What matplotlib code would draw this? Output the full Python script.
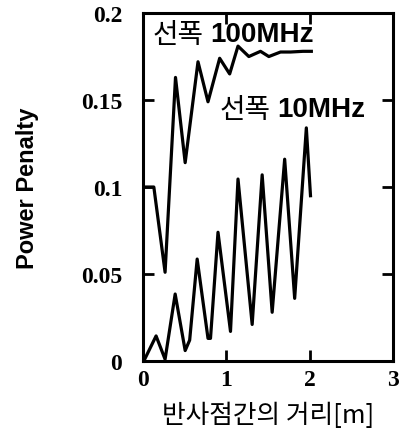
import matplotlib.pyplot as plt

# 선폭 100MHz
x100 = [0.0, 0.13, 0.265, 0.39, 0.506, 0.66, 0.78, 0.92, 1.04, 1.14, 1.27, 1.41, 1.51, 1.65, 1.77, 1.92, 2.02]
y100 = [0.1, 0.1, 0.051, 0.163, 0.114, 0.172, 0.149, 0.174, 0.165, 0.181, 0.175, 0.178, 0.175, 0.1776, 0.1776, 0.178, 0.178]

# 선폭 10MHz
x10 = [0.01, 0.157, 0.265, 0.386, 0.506, 0.56, 0.65, 0.78, 0.81, 0.90, 1.05, 1.14, 1.31, 1.43, 1.55, 1.70, 1.82, 1.96, 2.01]
y10 = [0.0, 0.0144, 0.001, 0.0385, 0.006, 0.012, 0.0586, 0.013, 0.013, 0.074, 0.017, 0.1046, 0.021, 0.107, 0.028, 0.116, 0.036, 0.134, 0.095]

xticks = [0, 1, 2, 3]
yticks = [0, 0.05, 0.1, 0.15, 0.2]
yticklabels = ['0', '0.05', '0.1', '0.15', '0.2']

fig = plt.figure(figsize=(4.0, 4.39), dpi=100)
ax = fig.add_axes([0.3575, 0.1754, 0.625, 0.7926])

ax.plot(x100, y100, color='black', lw=2.3)
ax.plot(x10, y10, color='black', lw=2.3)

ax.set_xlim(0, 3)
ax.set_ylim(0, 0.2)
ax.set_xticks(xticks)
ax.set_yticks(yticks)
ax.set_yticklabels(yticklabels)
ax.tick_params(direction='in', length=8, width=2, top=True, right=True)
ax.tick_params(axis='y', pad=15)
ax.tick_params(axis='x', pad=6)
for lab in ax.get_xticklabels() + ax.get_yticklabels():
    lab.set_fontfamily('Liberation Serif')
    lab.set_fontweight('bold')
    lab.set_fontsize(17)
for s in ax.spines.values():
    s.set_linewidth(2.2)

kr = ['Noto Sans CJK KR', 'DejaVu Sans']
# labels: hangul part medium weight, number part bold
t1 = ax.text(0.11, 0.188, '선폭', family=kr, fontsize=20, fontweight='medium', va='center', ha='left')
ax.annotate('100MHz', xy=(1, 0.5), xycoords=t1, xytext=(5, 0), textcoords='offset points',
            family='Liberation Sans', fontsize=20, fontweight='bold', va='center', ha='left')
t2 = ax.text(0.92, 0.145, '선폭', family=kr, fontsize=20, fontweight='medium', va='center', ha='left')
ax.annotate('10MHz', xy=(1, 0.5), xycoords=t2, xytext=(5, 0), textcoords='offset points',
            family='Liberation Sans', fontsize=20, fontweight='bold', va='center', ha='left')

ax.set_ylabel('Power Penalty', family='Liberation Sans', fontsize=17, fontweight='bold', labelpad=30)
ax.set_xlabel('반사점간의 거리[m]', family=kr, fontsize=18.5, labelpad=8)

fig.savefig('out.png', dpi=100)
